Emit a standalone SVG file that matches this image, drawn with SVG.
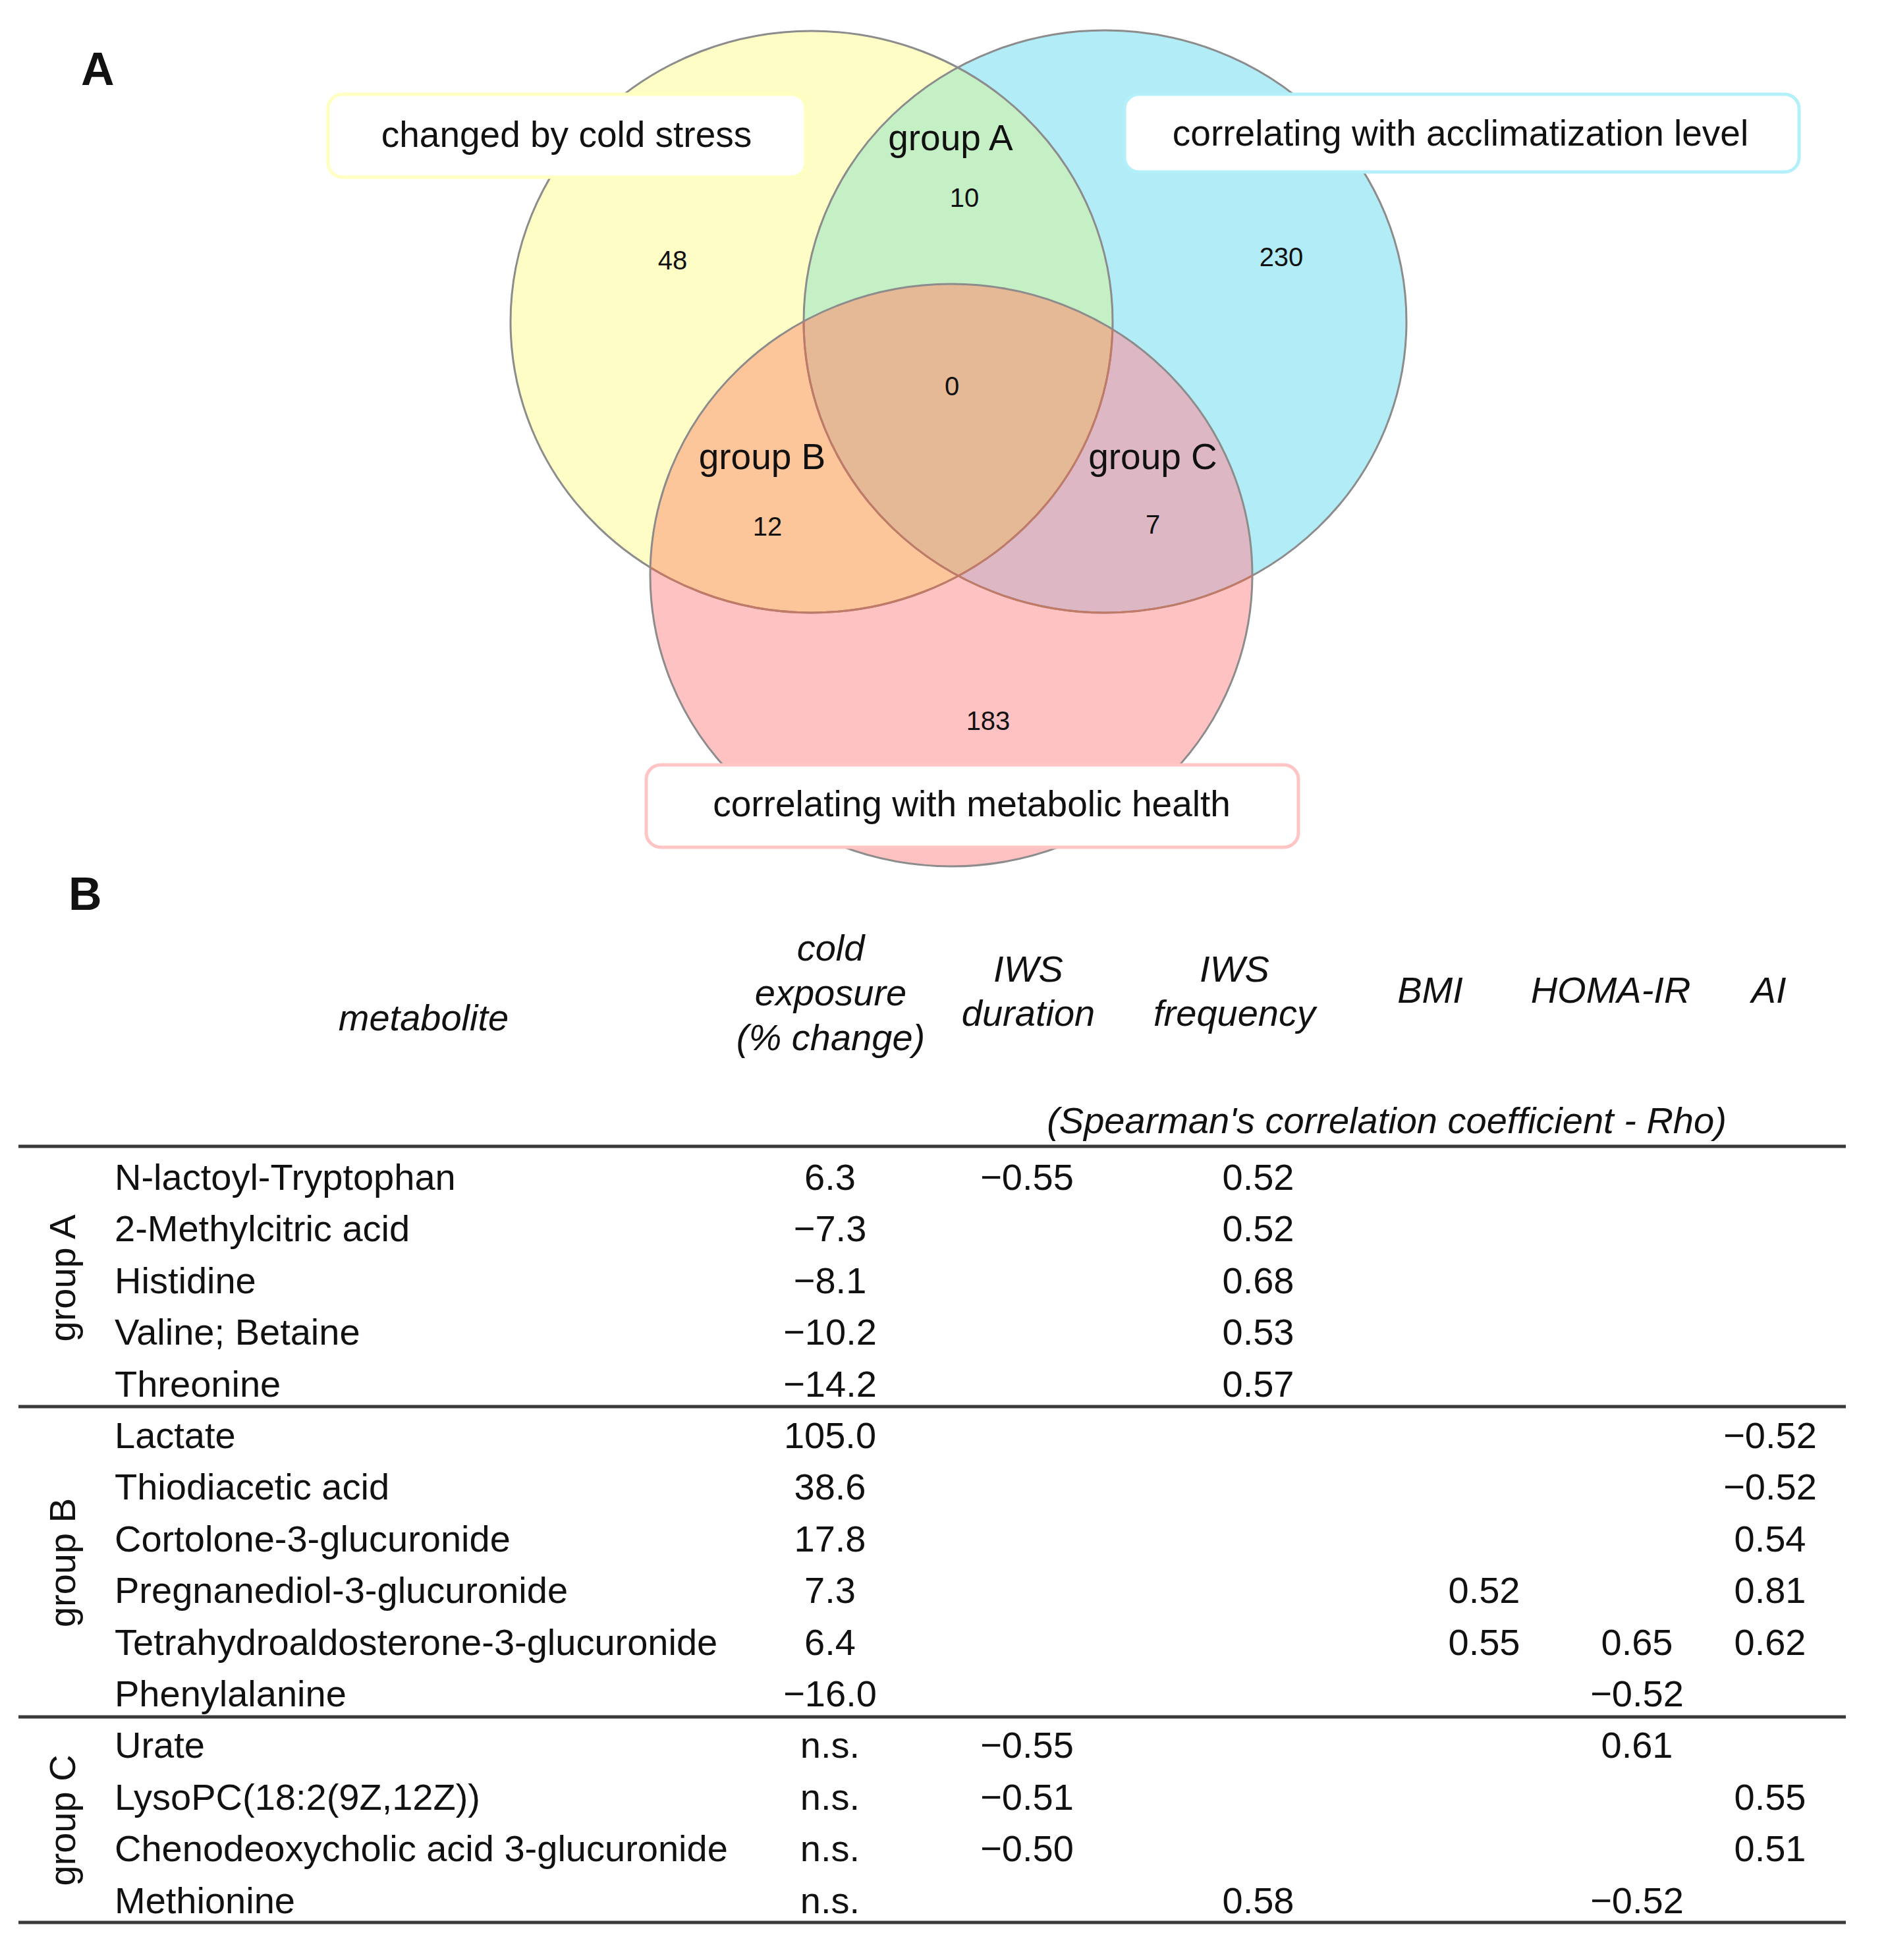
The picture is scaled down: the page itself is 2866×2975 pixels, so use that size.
<svg xmlns="http://www.w3.org/2000/svg" width="2866" height="2975" viewBox="0 0 2866 2975">
<style>
text{font-family:"Liberation Sans",Arial,sans-serif;fill:#111}
.panel{font-weight:bold;font-size:70px}
.lab{font-size:55px;text-anchor:middle}
.num{font-size:40px;text-anchor:middle}
.hd{font-size:56px;font-style:italic;text-anchor:middle}
.nm{font-size:56px}
.v{font-size:56px;text-anchor:middle}
.grp{font-size:56px;text-anchor:middle}
.rule{stroke:#3a3a3a;stroke-width:5}
.edge{fill:none;stroke:#8c8c8c;stroke-width:3}
.edgeIn{fill:none;stroke:#c27a66;stroke-width:3}
</style>
<defs>
<clipPath id="cY"><ellipse cx="1232" cy="488.5" rx="457" ry="441.5"/></clipPath>
<clipPath id="cB"><ellipse cx="1677.5" cy="488" rx="457.5" ry="442"/></clipPath>
<clipPath id="cP"><ellipse cx="1444" cy="873" rx="457" ry="442"/></clipPath>
</defs>
<rect width="2866" height="2975" fill="#ffffff"/>
<text class="panel" x="123" y="129">A</text>
<g id="venn">
<g id="set-cold">
<ellipse cx="1232" cy="488.5" rx="457" ry="441.5" fill="#fefdc5"/>
</g>
<g id="set-acclim">
<ellipse cx="1677.5" cy="488" rx="457.5" ry="442" fill="#b1ecf7"/>
</g>
<g id="set-health">
<ellipse cx="1444" cy="873" rx="457" ry="442" fill="#ffc2c3"/>
</g>
<g id="overlaps">
<ellipse cx="1677.5" cy="488" rx="457.5" ry="442" fill="#c5f0c5" clip-path="url(#cY)"/>
<ellipse cx="1444" cy="873" rx="457" ry="442" fill="#fdc59a" clip-path="url(#cY)"/>
<ellipse cx="1444" cy="873" rx="457" ry="442" fill="#ddb8c4" clip-path="url(#cB)"/>
<g clip-path="url(#cY)"><ellipse cx="1444" cy="873" rx="457" ry="442" fill="#e6b996" clip-path="url(#cB)"/></g>
</g>
<g id="venn-edges">
<ellipse class="edge" cx="1232" cy="488.5" rx="457" ry="441.5"/>
<ellipse class="edge" cx="1677.5" cy="488" rx="457.5" ry="442"/>
<ellipse class="edge" cx="1444" cy="873" rx="457" ry="442"/>
<g clip-path="url(#cP)">
<ellipse class="edgeIn" cx="1232" cy="488.5" rx="457" ry="441.5"/>
<ellipse class="edgeIn" cx="1677.5" cy="488" rx="457.5" ry="442"/>
</g>
</g>
<g id="box-cold">
<rect x="498" y="143" width="725" height="126" rx="22" fill="#ffffff" stroke="#ffffc2" stroke-width="5"/>
<text class="lab" x="860" y="223">changed by cold stress</text>
</g>
<g id="box-acclim">
<rect x="1707" y="143" width="1024" height="118" rx="22" fill="#ffffff" stroke="#b3f0fa" stroke-width="5"/>
<text class="lab" x="2217" y="221">correlating with acclimatization level</text>
</g>
<g id="box-health">
<rect x="981" y="1161" width="990" height="125" rx="22" fill="#ffffff" stroke="#ffc4c4" stroke-width="5"/>
<text class="lab" x="1475" y="1239">correlating with metabolic health</text>
</g>
<g id="region-labels">
<text class="lab" x="1443" y="228">group A</text>
<text class="num" x="1464" y="314">10</text>
<text class="num" x="1021" y="409">48</text>
<text class="num" x="1945" y="404">230</text>
<text class="num" x="1445" y="600">0</text>
<text class="lab" x="1157" y="712">group B</text>
<text class="num" x="1165" y="813">12</text>
<text class="lab" x="1750" y="712">group C</text>
<text class="num" x="1750" y="810">7</text>
<text class="num" x="1500" y="1108">183</text>
</g>
</g>
<text class="panel" x="104" y="1381">B</text>
<g id="table">
<g id="header">
<text class="hd" x="643" y="1564">metabolite</text>
<text class="hd" x="1261" y="1458">cold</text>
<text class="hd" x="1261" y="1526">exposure</text>
<text class="hd" x="1261" y="1594">(% change)</text>
<text class="hd" x="1561" y="1490">IWS</text>
<text class="hd" x="1561" y="1557">duration</text>
<text class="hd" x="1874" y="1490">IWS</text>
<text class="hd" x="1874" y="1557">frequency</text>
<text class="hd" x="2171" y="1522">BMI</text>
<text class="hd" x="2445" y="1522">HOMA-IR</text>
<text class="hd" x="2685" y="1522">AI</text>
<text class="hd" x="2105" y="1720">(Spearman's correlation coefficient - Rho)</text>
</g>
<g id="rules">
<line class="rule" x1="28" y1="1740" x2="2802" y2="1740"/>
<line class="rule" x1="28" y1="2135" x2="2802" y2="2135"/>
<line class="rule" x1="28" y1="2606" x2="2802" y2="2606"/>
<line class="rule" x1="28" y1="2918" x2="2802" y2="2918"/>
</g>
<g id="group-labels">
<text class="grp" transform="translate(114 1940) rotate(-90)">group A</text>
<text class="grp" transform="translate(114 2372) rotate(-90)">group B</text>
<text class="grp" transform="translate(114 2763) rotate(-90)">group C</text>
</g>
<g id="names">
<text class="nm" x="174" y="1806">N-lactoyl-Tryptophan</text>
<text class="nm" x="174" y="1884">2-Methylcitric acid</text>
<text class="nm" x="174" y="1963">Histidine</text>
<text class="nm" x="174" y="2041">Valine; Betaine</text>
<text class="nm" x="174" y="2120">Threonine</text>
<text class="nm" x="174" y="2198">Lactate</text>
<text class="nm" x="174" y="2276">Thiodiacetic acid</text>
<text class="nm" x="174" y="2355">Cortolone-3-glucuronide</text>
<text class="nm" x="174" y="2433">Pregnanediol-3-glucuronide</text>
<text class="nm" x="174" y="2512">Tetrahydroaldosterone-3-glucuronide</text>
<text class="nm" x="174" y="2590">Phenylalanine</text>
<text class="nm" x="174" y="2668">Urate</text>
<text class="nm" x="174" y="2747">LysoPC(18:2(9Z,12Z))</text>
<text class="nm" x="174" y="2825">Chenodeoxycholic acid 3-glucuronide</text>
<text class="nm" x="174" y="2904">Methionine</text>
</g>
<g id="cold-values">
<text class="v" x="1260" y="1806">6.3</text>
<text class="v" x="1260" y="1884">−7.3</text>
<text class="v" x="1260" y="1963">−8.1</text>
<text class="v" x="1260" y="2041">−10.2</text>
<text class="v" x="1260" y="2120">−14.2</text>
<text class="v" x="1260" y="2198">105.0</text>
<text class="v" x="1260" y="2276">38.6</text>
<text class="v" x="1260" y="2355">17.8</text>
<text class="v" x="1260" y="2433">7.3</text>
<text class="v" x="1260" y="2512">6.4</text>
<text class="v" x="1260" y="2590">−16.0</text>
<text class="v" x="1260" y="2668">n.s.</text>
<text class="v" x="1260" y="2747">n.s.</text>
<text class="v" x="1260" y="2825">n.s.</text>
<text class="v" x="1260" y="2904">n.s.</text>
</g>
<g id="rho-values">
<text class="v" x="1559" y="1806">−0.55</text>
<text class="v" x="1910" y="1806">0.52</text>
<text class="v" x="1910" y="1884">0.52</text>
<text class="v" x="1910" y="1963">0.68</text>
<text class="v" x="1910" y="2041">0.53</text>
<text class="v" x="1910" y="2120">0.57</text>
<text class="v" x="2687" y="2198">−0.52</text>
<text class="v" x="2687" y="2276">−0.52</text>
<text class="v" x="2687" y="2355">0.54</text>
<text class="v" x="2253" y="2433">0.52</text>
<text class="v" x="2687" y="2433">0.81</text>
<text class="v" x="2253" y="2512">0.55</text>
<text class="v" x="2485" y="2512">0.65</text>
<text class="v" x="2687" y="2512">0.62</text>
<text class="v" x="2485" y="2590">−0.52</text>
<text class="v" x="1559" y="2668">−0.55</text>
<text class="v" x="2485" y="2668">0.61</text>
<text class="v" x="1559" y="2747">−0.51</text>
<text class="v" x="2687" y="2747">0.55</text>
<text class="v" x="1559" y="2825">−0.50</text>
<text class="v" x="2687" y="2825">0.51</text>
<text class="v" x="1910" y="2904">0.58</text>
<text class="v" x="2485" y="2904">−0.52</text>
</g>
</g>
</svg>
